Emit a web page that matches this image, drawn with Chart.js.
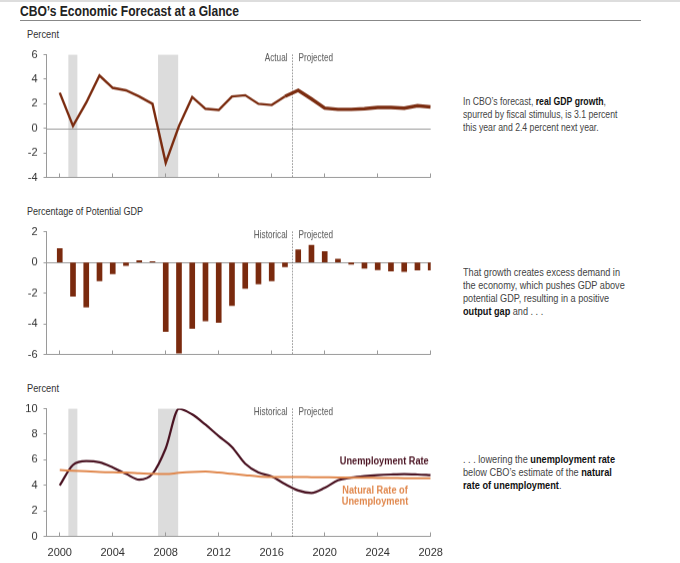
<!DOCTYPE html>
<html><head><meta charset="utf-8">
<script src="https://cdn.jsdelivr.net/npm/chart.js@4.4.1/dist/chart.umd.min.js"></script>
<style>
html,body{margin:0;padding:0;background:#fff}
body{width:680px;height:563px;position:relative;overflow:hidden;font-family:"Liberation Sans",Arial,sans-serif;color:#444}
.abs{position:absolute;white-space:nowrap;transform-origin:0 0}
.note{position:absolute;left:463px;font-size:11.5px;line-height:13px;color:#444;white-space:nowrap;transform-origin:0 0}
.note b{color:#111}
</style></head>
<body>
<div class="abs" style="left:0;top:0;width:680px;height:2px;background:#ddd"></div>
<div class="abs fit" data-w="219" style="left:20px;top:2px;font-size:15px;font-weight:bold;color:#222">CBO’s Economic Forecast at a Glance</div>
<div class="abs" style="left:20px;top:20px;width:621px;height:1px;background:#888"></div>
<div class="abs fit" data-w="32" style="left:27px;top:28px;font-size:11.5px;color:#333">Percent</div>
<div class="abs fit" data-w="116" style="left:27px;top:205px;font-size:11.5px;color:#333">Percentage of Potential GDP</div>
<div class="abs fit" data-w="32" style="left:27px;top:382px;font-size:11.5px;color:#333">Percent</div>
<div style="position:absolute;left:0;top:42.4px;width:450px;height:147.2px"><canvas id="c1"></canvas></div>
<div style="position:absolute;left:0;top:219.4px;width:450px;height:147.2px"><canvas id="c2"></canvas></div>
<div style="position:absolute;left:0;top:396.4px;width:450px;height:166.6px"><canvas id="c3"></canvas></div>
<div class="note fit1" data-w="143" style="top:95px"><span>In CBO’s forecast, <b>real GDP growth</b>,</span><br>spurred by fiscal stimulus, is 3.1 percent<br>this year and 2.4 percent next year.</div>
<div class="note fit1" data-w="157" style="top:266px"><span>That growth creates excess demand in</span><br>the economy, which pushes GDP above<br>potential GDP, resulting in a positive<br><b>output gap</b> and . . .</div>
<div class="note fit1" data-w="152" style="top:453px"><span>. . . lowering the <b>unemployment rate</b></span><br>below CBO’s estimate of the <b>natural</b><br><b>rate of unemployment</b>.</div>
<script>
// ---- data ----
const years = [2000,2001,2002,2003,2004,2005,2006,2007,2008,2009,2010,2011,2012,2013,2014,2015,2016,2017,2018,2019,2020,2021,2022,2023,2024,2025,2026,2027,2028];
const gdpGrowth = [2.9,0.2,2.1,4.3,3.3,3.1,2.6,2.0,-2.8,0.2,2.55,1.6,1.5,2.6,2.7,2.0,1.9,2.6,3.1,2.4,1.65,1.55,1.55,1.6,1.7,1.7,1.65,1.85,1.75];
const outputGap = [0.9,-2.2,-2.9,-1.2,-0.75,-0.2,0.12,0.05,-4.5,-5.9,-4.3,-3.8,-3.9,-2.8,-1.7,-1.4,-1.2,-0.28,0.82,1.12,0.7,0.22,-0.12,-0.38,-0.48,-0.56,-0.6,-0.5,-0.5];
const unemploymentRate = [4.0,5.6,5.9,5.8,5.4,4.9,4.45,4.9,6.9,10.0,9.55,8.75,7.85,7.0,5.7,5.0,4.7,4.1,3.6,3.4,3.8,4.4,4.6,4.72,4.8,4.85,4.88,4.85,4.8];
const naturalRate = [5.2,5.15,5.1,5.05,5.02,5.0,4.95,4.9,4.88,4.98,5.05,5.08,5.0,4.9,4.8,4.7,4.66,4.65,4.65,4.64,4.63,4.62,4.6,4.6,4.58,4.57,4.56,4.55,4.55];
const recessions = [[2000.65,2001.33],[2007.42,2008.94]];
const projectionStart = 2017.5;
const xTicks = [2000,2004,2008,2012,2016,2020,2024,2028];

// condense HTML text to match the narrow reference face
document.querySelectorAll('.fit').forEach(el=>{
  const w = el.getBoundingClientRect().width;
  el.style.transform = 'scaleX('+(+el.dataset.w/w)+')';
});
document.querySelectorAll('.fit1').forEach(el=>{
  const w = el.querySelector('span').getBoundingClientRect().width;
  el.style.transform = 'scaleX('+(+el.dataset.w/w)+')';
});

const FONT = '"Liberation Sans",Arial,sans-serif';
const GRID = '#9a9a9a';
function narrow(ctx, text, x, y, align, sx){
  ctx.save(); ctx.translate(x,y); ctx.scale(sx,1); ctx.textAlign = align; ctx.fillText(text,0,0); ctx.restore();
}

const deco = {
  id:'deco',
  beforeDatasetsDraw(chart, args, o){
    const {ctx, chartArea:a, scales:{x,y}} = chart;
    ctx.save();
    if(o.bands){
      ctx.fillStyle = '#dcdcdc';
      recessions.forEach(([s,e])=>{
        const x0 = x.getPixelForValue(s), x1 = x.getPixelForValue(e);
        ctx.fillRect(x0, a.top, x1-x0, a.bottom-a.top);
      });
    }
    if(o.zero){
      const yz = Math.round(y.getPixelForValue(0))+0.5;
      ctx.strokeStyle = GRID; ctx.lineWidth = 1;
      ctx.beginPath(); ctx.moveTo(a.left, yz); ctx.lineTo(a.right, yz); ctx.stroke();
    }
    const yb = Math.round(a.bottom)-0.5;
    ctx.strokeStyle = GRID; ctx.lineWidth = 1;
    ctx.beginPath(); ctx.moveTo(a.left, yb); ctx.lineTo(a.right, yb);
    xTicks.forEach(v=>{ const px = Math.round(x.getPixelForValue(v))-0.5; ctx.moveTo(px, yb); ctx.lineTo(px, yb-4); });
    ctx.stroke();
    const xp = Math.round(x.getPixelForValue(projectionStart))+0.5;
    ctx.strokeStyle = '#555'; ctx.setLineDash([1,2]);
    ctx.beginPath(); ctx.moveTo(xp, a.top); ctx.lineTo(xp, a.bottom); ctx.stroke();
    ctx.setLineDash([]);
    ctx.font = '10.5px '+FONT; ctx.fillStyle = '#555'; ctx.textBaseline = 'middle';
    narrow(ctx, o.left, xp-5, a.top+4, 'right', 0.78);
    narrow(ctx, 'Projected', xp+6, a.top+4, 'left', 0.78);
    ctx.restore();
  },
  afterDatasetsDraw(chart, args, o){
    if(!o.series) return;
    const {ctx, chartArea:a, scales:{x,y}} = chart;
    ctx.save();
    ctx.font = 'bold 11.5px '+FONT; ctx.textBaseline = 'middle';
    ctx.fillStyle = '#4a1322';
    narrow(ctx, 'Unemployment Rate', a.right-2, y.getPixelForValue(5.85), 'right', 0.8);
    ctx.fillStyle = '#e0874c';
    narrow(ctx, 'Natural Rate of', x.getPixelForValue(2023.8), y.getPixelForValue(3.6), 'center', 0.8);
    narrow(ctx, 'Unemployment', x.getPixelForValue(2023.8), y.getPixelForValue(2.7), 'center', 0.8);
    ctx.restore();
  }
};

function xScale(h, labels){
  return {type:'linear', min:1999, max:2028,
    grid:{display:false}, border:{display:false},
    afterBuildTicks(s){ s.ticks = xTicks.map(v=>({value:v})); },
    ticks:{display:labels, color:'#333', padding:2, maxRotation:0, autoSkip:false, font:{family:FONT,size:11}, callback:v=>String(v)},
    afterFit(s){ s.height = h; }};
}
function yScale(min,max){
  return {min, max,
    afterBuildTicks(s){ const t=[]; for(let v=min; v<=max; v+=2) t.push({value:v}); s.ticks=t; },
    ticks:{color:'#333', padding:6, font:{family:FONT,size:11}, callback:v=>String(v)},
    grid:{drawOnChartArea:false, drawTicks:true, tickLength:3, color:GRID},
    border:{display:true, color:GRID},
    afterFit(s){ s.width = 46.5; }};
}
const base = {responsive:true, maintainAspectRatio:false, animation:false,
  plugins:{legend:{display:false}, tooltip:{enabled:false}},
  elements:{point:{radius:0}}};

new Chart(document.getElementById('c1'), {
  type:'line',
  data:{datasets:[{data: years.map((y,i)=>({x:y, y:gdpGrowth[i]})), borderColor:'#7b2c10', borderWidth:2.4, tension:0,
    segment:{borderWidth: c => c.p0.parsed.x >= 2017 ? 3.4 : 2.4}}]},
  options:{...base, layout:{padding:{top:10,right:19.3,left:0,bottom:0}},
    scales:{x:xScale(8,false), y:yScale(-4,6)},
    plugins:{...base.plugins, deco:{bands:true, zero:true, left:'Actual', series:false}}},
  plugins:[deco]
});

new Chart(document.getElementById('c2'), {
  type:'bar',
  data:{datasets:[{data: years.map((y,i)=>({x:y, y:outputGap[i]})), backgroundColor:'#7a2a0e', barThickness:5, borderWidth:0}]},
  options:{...base, layout:{padding:{top:10,right:19.3,left:0,bottom:0}},
    scales:{x:{...xScale(8,false), offset:false}, y:yScale(-6,2)},
    plugins:{...base.plugins, deco:{bands:false, zero:true, left:'Historical'}}},
  plugins:[deco]
});

new Chart(document.getElementById('c3'), {
  type:'line',
  data:{datasets:[
    {data: years.map((y,i)=>({x:y, y:naturalRate[i]})), borderColor:'#e0874c', borderWidth:2, cubicInterpolationMode:'monotone'},
    {data: years.map((y,i)=>({x:y, y:unemploymentRate[i]})), borderColor:'#4a1322', borderWidth:2.2, cubicInterpolationMode:'monotone'}
  ]},
  options:{...base, layout:{padding:{top:10,right:19.3,left:0,bottom:0}},
    scales:{x:xScale(27,true), y:yScale(0,10)},
    plugins:{...base.plugins, deco:{bands:true, zero:false, left:'Historical', series:true}}},
  plugins:[deco]
});
</script>
</body></html>
